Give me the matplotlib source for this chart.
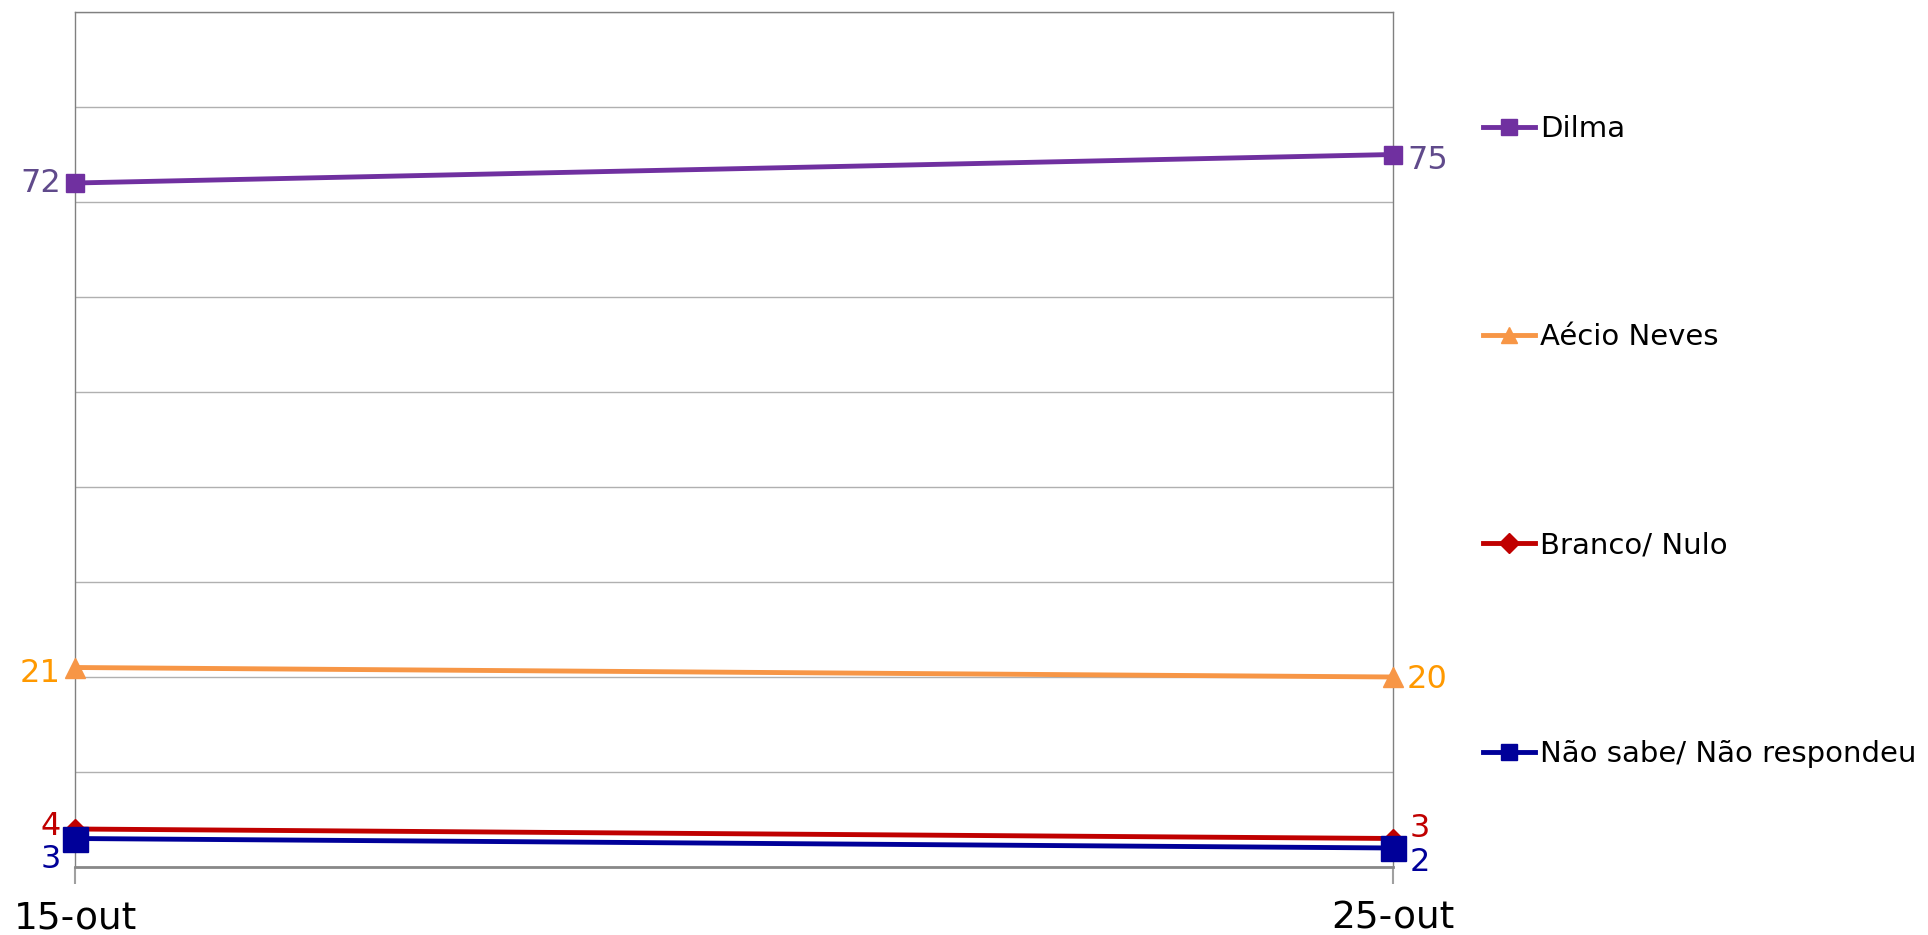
import matplotlib
matplotlib.use("Agg")
import matplotlib.pyplot as plt
from matplotlib.lines import Line2D

# Datos
fechas = ["15-out", "25-out"]
dilma = [72, 75]
aecio = [21, 20]
branco = [4, 3]
nao_sabe = [3, 2]

nomes = ["Dilma", "Aécio Neves", "Branco/ Nulo", "Não sabe/ Não respondeu"]
cores_linha = ["#7030a0", "#f79646", "#c00000", "#000099"]
cores_rotulo = ["#604a8b", "#ff9900", "#c00000", "#000099"]
marcadores = ["s", "^", "D", "s"]
tam_marc = [13, 14, 10, 18]
series = [dilma, aecio, branco, nao_sabe]

plt.rcParams['font.family'] = ['DejaVu Sans']

fig = plt.figure(figsize=(19.28, 9.35), dpi=100)
ax = fig.add_axes([75 / 1928, 1 - 867 / 935, (1393 - 75) / 1928, (867 - 12) / 935])

x = list(range(len(fechas)))
for s, cor, m, ms in zip(series, cores_linha, marcadores, tam_marc):
    ax.plot(x, s, color=cor, lw=3.5, marker=m, markersize=ms, clip_on=False, zorder=3)

# Rótulos de dados (deslocamentos em pontos)
desloc_esq = [(-10, 0), (-10, -4.5), (-10, 1.5), (-10, -15)]
desloc_dir = [(10, -4), (10, -2), (12, 7), (12, -10.5)]
for s, cor, de, dd in zip(series, cores_rotulo, desloc_esq, desloc_dir):
    ax.annotate(str(s[0]), (x[0], s[0]), xytext=de, textcoords="offset points",
                ha="right", va="center", fontsize=23, color=cor)
    ax.annotate(str(s[-1]), (x[-1], s[-1]), xytext=dd, textcoords="offset points",
                ha="left", va="center", fontsize=23, color=cor)

ax.set_xlim(0, 1)
ax.set_ylim(0, 90)
ax.set_yticks(range(0, 91, 10))
ax.set_yticklabels([])
ax.tick_params(axis="y", length=0)
ax.yaxis.grid(True, color="#b0b0b0", lw=1)
ax.set_axisbelow(True)
ax.set_xticks(x)
ax.set_xticklabels(fechas, fontsize=27)
ax.tick_params(axis="x", length=12, width=1.5, color="#a0a0a0", pad=12)

for lado in ["left", "right", "top"]:
    ax.spines[lado].set_color("#808080")
    ax.spines[lado].set_linewidth(1)
ax.spines["bottom"].set_color("#888888")
ax.spines["bottom"].set_linewidth(2)

# Legenda
handles = [Line2D([0], [0], color=c, lw=3.5, marker=m, markersize=12)
           for c, m in zip(cores_linha, marcadores)]
handles[2].set_markersize(10)
fig.legend(handles, nomes, loc="upper left", bbox_to_anchor=(1471 / 1928, 1 - 103.5 / 935),
           frameon=False, fontsize=21, handlelength=1.78, handletextpad=0.2,
           labelspacing=6.18, borderaxespad=0)

fig.savefig("out.png", dpi=100, facecolor="white")
